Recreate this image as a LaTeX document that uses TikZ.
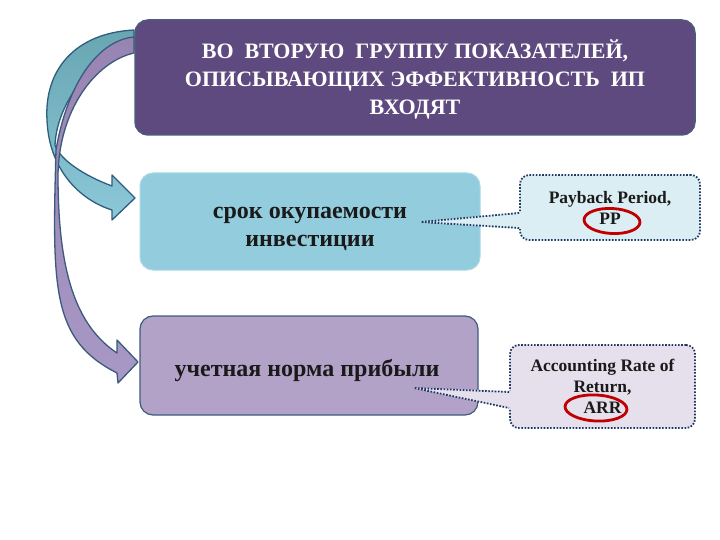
\documentclass[tikz,border=0pt]{standalone}
\usepackage{fontspec}
\setmainfont{Liberation Serif}
\usetikzlibrary{shapes.geometric,calc}
\definecolor{titlefill}{RGB}{94,74,126}
\definecolor{titleline}{RGB}{76,91,124}
\definecolor{bluefill}{RGB}{147,205,221}
\definecolor{blueline}{RGB}{170,216,229}
\definecolor{purpfill}{RGB}{179,162,199}
\definecolor{purpline}{RGB}{63,91,126}
\definecolor{callblue}{RGB}{219,238,244}
\definecolor{callpurp}{RGB}{230,224,236}
\definecolor{dotline}{RGB}{31,56,100}
\definecolor{ringred}{RGB}{192,0,0}
\definecolor{arrteal}{RGB}{140,200,216}
\definecolor{arrtealdark}{RGB}{104,166,178}
\definecolor{arrtealline}{RGB}{46,94,126}
\definecolor{arrpurp}{RGB}{168,152,198}
\definecolor{arrpurpdark}{RGB}{152,132,178}
\definecolor{arrpurpline}{RGB}{60,90,124}
\definecolor{txt}{RGB}{26,26,26}
\begin{document}
\begin{tikzpicture}[x=1pt,y=-1pt,
  boxbase/.style={rectangle, rounded corners=13pt, inner sep=0pt},
  boxtext/.style={align=center, inner sep=0pt, text=txt,
    font=\fontsize{24}{28}\selectfont\bfseries},
  callbox/.style={rectangle, rounded corners=9pt, draw=dotline, line width=1.8pt,
    dash pattern=on 1.6pt off 1.6pt, align=center, inner sep=0pt,
    font=\fontsize{17.5}{21}\selectfont\bfseries, text=txt},
  dotedge/.style={draw=dotline, line width=1.8pt, dash pattern=on 1.6pt off 1.6pt},
  ring/.style={ellipse, draw=ringred, line width=2.8pt, inner sep=0pt},
  arrowline/.style={line width=1.3pt, line join=round}]
\useasboundingbox[fill=white] (0,0) rectangle (720,540);

% curved arrows
\shadedraw[arrowline, top color=arrtealdark, bottom color=arrteal, draw=arrtealline]
  (134,30) .. controls (75,33) and (44,70) .. (47,120)
  .. controls (49,170) and (80,200) .. (112,210)
  -- (112,220) -- (135,198) -- (112,175) -- (112,186)
  .. controls (85,176) and (60,160) .. (55,145)
  .. controls (57,100) and (97,52) .. (134,50) -- cycle;
\shadedraw[arrowline, top color=arrpurpdark, bottom color=arrpurp, draw=arrpurpline]
  (134,37) .. controls (100,40) and (68,80) .. (56,150)
  .. controls (52,290) and (52,340) .. (117,373)
  -- (118,383) -- (138,362) -- (117,340) -- (117,353)
  .. controls (75,325) and (58,270) .. (58,175)
  .. controls (59,110) and (95,62) .. (134,53) -- cycle;

% main boxes
\node[boxbase, fill=titlefill, draw=titleline, line width=1.5pt,
  minimum width=560pt, minimum height=115pt] (title) at (415,77.5) {};
\node[align=center, inner sep=0pt, text=white,
  font=\fontsize{22}{28}\selectfont\bfseries] (titletext) at ($(title.center)+(0,2)$)
  {ВО\ \ ВТОРУЮ\ \ ГРУППУ ПОКАЗАТЕЛЕЙ,\\ОПИСЫВАЮЩИХ ЭФФЕКТИВНОСТЬ\ \ ИП\\ВХОДЯТ};
\node[boxbase, fill=bluefill, draw=blueline, line width=1pt,
  minimum width=340pt, minimum height=97pt] (srok) at (310,221.5) {};
\node[boxtext] (sroktext) at ($(srok.center)+(0,7)$) {срок окупаемости\\инвестиции};
\node[boxbase, fill=purpfill, draw=purpline, line width=1.2pt,
  minimum width=338pt, minimum height=99pt] (arr) at (309,365.5) {};
\node[boxtext] (arrtext) at ($(arr.center)+(-2,5)$) {учетная норма прибыли};

% callouts
\node[callbox, fill=callblue, minimum width=180pt, minimum height=65pt] (c1) at (610,207.5)
  {Payback Period,\\PP};
\coordinate (t1) at (421,222);
\coordinate (a1) at ($(c1.west)+(0,5.5)$);
\coordinate (b1) at ($(c1.west)+(0,20.5)$);
\fill[callblue] (t1) -- ($(a1)+(2.5,-1)$) -- ($(b1)+(2.5,1)$) -- cycle;
\draw[dotedge] (a1) -- (t1) -- (b1);

\node[callbox, fill=callpurp, minimum width=185pt, minimum height=83pt] (c2) at (602.5,386.5)
  {Accounting Rate of\\Return,\\ARR};
\coordinate (t2) at (414,388);
\coordinate (a2) at ($(c2.west)+(0,5.5)$);
\coordinate (b2) at ($(c2.west)+(0,21.5)$);
\fill[callpurp] (t2) -- ($(a2)+(2.5,-1)$) -- ($(b2)+(2.5,1)$) -- cycle;
\draw[dotedge] (a2) -- (t2) -- (b2);

% red rings
\node[ring, minimum width=56pt, minimum height=25pt, rotate=-3] (r1) at (612,221) {};
\node[ring, minimum width=62pt, minimum height=26pt, rotate=-3] (r2) at (596,408) {};
\end{tikzpicture}
\end{document}
